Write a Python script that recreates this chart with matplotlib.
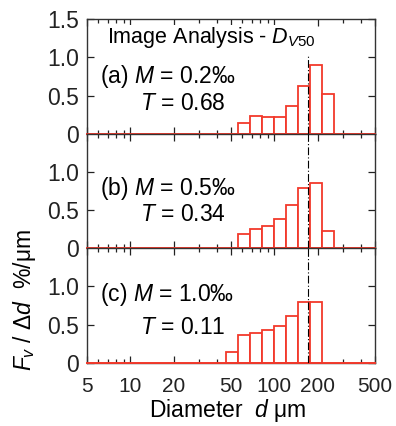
import numpy as np
import matplotlib
matplotlib.use("Agg")
import matplotlib.pyplot as plt
from matplotlib.ticker import FixedLocator, NullFormatter

plt.rcParams["font.family"] = ["Liberation Sans", "DejaVu Sans"]
plt.rcParams["mathtext.fontset"] = "custom"
plt.rcParams["mathtext.rm"] = "Liberation Sans"
plt.rcParams["mathtext.it"] = "Liberation Sans:italic"

# bin edges (um), 12 bins per decade
edges_ab = [56.2, 68.1, 82.5, 100.0, 121.2, 146.8, 177.8, 215.4, 261.0]
edges_c = [46.4, 56.2, 68.1, 82.5, 100.0, 121.2, 146.8, 177.8, 215.4]

# Fv / delta d  (%/um)
heights_a = [0.14, 0.23, 0.227, 0.219, 0.365, 0.62, 0.90, 0.524]
heights_b = [0.19, 0.25, 0.29, 0.375, 0.565, 0.79, 0.85, 0.225]
heights_c = [0.15, 0.36, 0.39, 0.435, 0.48, 0.61, 0.80, 0.79]

panel_tags = ["(a)", "(b)", "(c)"]
M_values = ["0.2", "0.5", "1.0"]
T_values = ["0.68", "0.34", "0.11"]
dv50 = 171.0

xticks = [5, 10, 20, 50, 100, 200, 500]
red = "#f2392b"

fig = plt.figure(figsize=(3.96, 4.26), dpi=100)
W, H = 396.0, 426.0
left, right = 87, 375
panel_px = [(19, 134), (134, 248), (248, 363)]
# text positions (pixel offsets above baseline) for the two lines
tag_off = [(57, 31), (60, 33), (68, 36)]

panels = [
    (edges_ab, heights_a),
    (edges_ab, heights_b),
    (edges_c, heights_c),
]

axes = []
for i, ((top, bot), (edges, hts)) in enumerate(zip(panel_px, panels)):
    ax = fig.add_axes([left / W, 1 - bot / H, (right - left) / W, (bot - top) / H])
    axes.append(ax)
    edges = np.array(edges)
    ax.bar(edges[:-1], hts, width=np.diff(edges), align="edge",
           facecolor="white", edgecolor=red, linewidth=1.3, zorder=2)
    ax.axhline(0, color=red, linewidth=1.4, zorder=3, clip_on=False)
    ymax = 1.05 if i == 0 else 1.5
    ax.plot([dv50, dv50], [0, ymax], color="black", linestyle=(0, (7, 2, 1, 2)),
            linewidth=0.8, zorder=4)

    ax.set_xscale("log")
    ax.set_xlim(5, 500)
    ax.set_ylim(0, 1.5)
    ax.xaxis.set_major_locator(FixedLocator(xticks))
    minor = [m * 10 ** e for e in range(0, 3) for m in range(1, 10)]
    ax.xaxis.set_minor_locator(FixedLocator([v for v in minor if v not in xticks]))
    ax.xaxis.set_minor_formatter(NullFormatter())
    if i == 2:
        ax.set_xticklabels([str(v) for v in xticks])
    else:
        ax.set_xticklabels([])
    if i == 0:
        ax.set_yticks([0, 0.5, 1.0, 1.5])
        ax.set_yticklabels(["0", "0.5", "1.0", "1.5"])
    else:
        ax.set_yticks([0, 0.5, 1.0])
        ax.set_yticklabels(["0", "0.5", "1.0"])
    ax.tick_params(which="both", direction="in", top=True, right=True,
                   width=0.9, colors="#222222")
    ax.tick_params(axis="y", labelsize=16.5, pad=6)
    ax.tick_params(axis="x", labelsize=15, pad=10)
    ax.tick_params(which="major", length=5)
    ax.tick_params(which="minor", length=3)
    for s in ax.spines.values():
        s.set_color("#333333")
        s.set_linewidth(1.0)

    o1, o2 = tag_off[i]
    ph = bot - top
    ax.text((100 - left) / (right - left), o1 / ph,
            f"{panel_tags[i]} $M$ = {M_values[i]}\u2030",
            transform=ax.transAxes, fontsize=16.5, va="center", ha="left")
    ax.text((140 - left) / (right - left), o2 / ph,
            f"$T$ = {T_values[i]}",
            transform=ax.transAxes, fontsize=16.5, va="center", ha="left")

axes[0].text((107 - left) / (right - left), (134 - 38) / 115.0,
             r"Image Analysis - $D_{V50}$", transform=axes[0].transAxes,
             fontsize=15.5, va="center", ha="left",
             bbox=dict(facecolor="white", edgecolor="none", pad=0.5))

fig.text(228 / W, 1 - 411 / H, r"Diameter  $d$ μm", fontsize=16.5,
         ha="center", va="center")
fig.text(24 / W, 1 - 300 / H, r"$F_v$ / Δ$d$  %/μm", fontsize=16.5,
         rotation=90, ha="center", va="center")

fig.savefig("out.png", dpi=100)
